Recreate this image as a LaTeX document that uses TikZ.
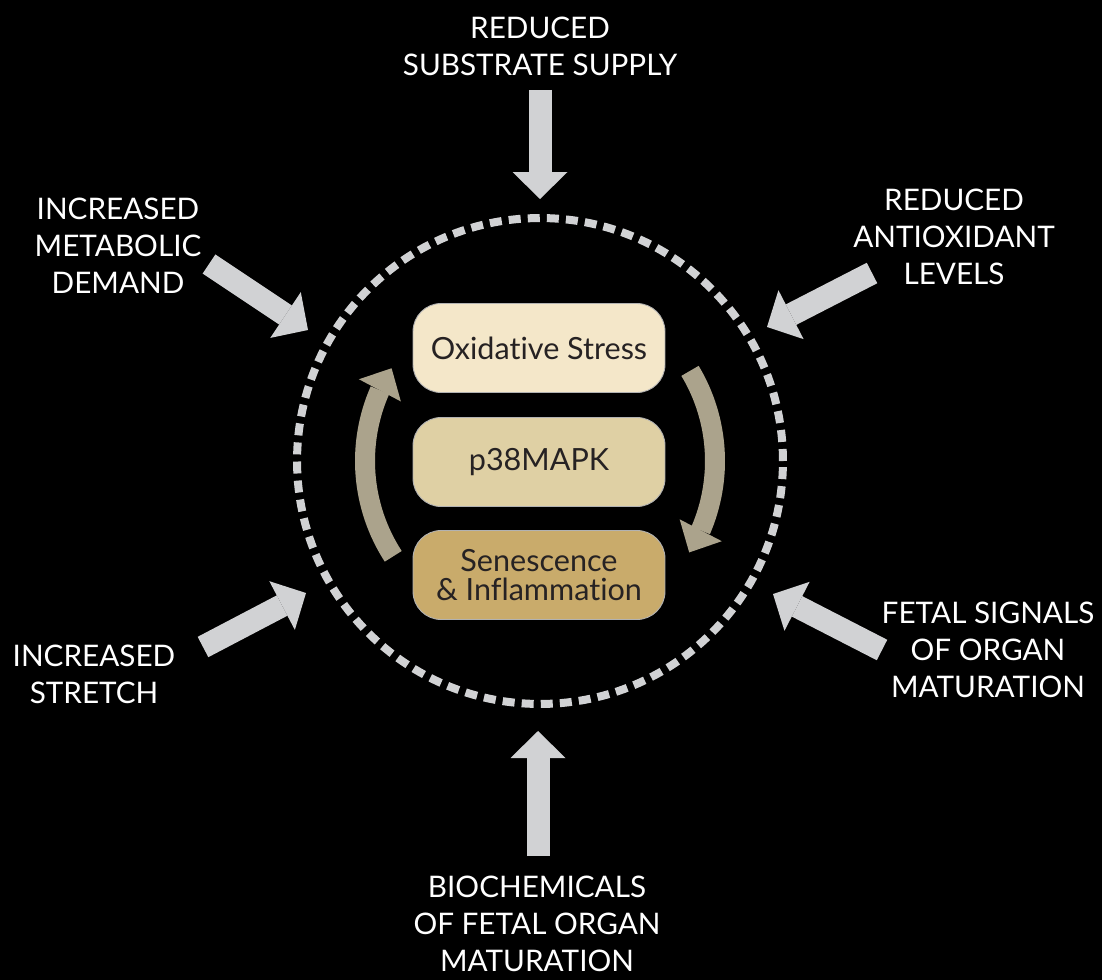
\documentclass[tikz,border=0pt]{standalone}
\usepackage{fontspec}
\setmainfont{Lato}[Ligatures=NoCommon]
\usetikzlibrary{arrows.meta,bending}

\definecolor{pushgray}{HTML}{D1D2D4}
\definecolor{loopgray}{HTML}{ABA38C}
\definecolor{oxfill}{HTML}{F4E7C9}
\definecolor{mapkfill}{HTML}{DFD0A4}
\definecolor{senfill}{HTML}{C9AB6B}
\definecolor{inktext}{HTML}{262223}

\begin{document}
\begin{tikzpicture}[x=0.02cm,y=0.02cm]
\tikzstyle{cue}=[text=white, align=center, inner sep=0pt, font=\fontsize{16.9}{21}\selectfont]
\tikzstyle{stage}=[rounded corners=0.56cm, minimum width=5.04cm, minimum height=1.78cm, text=inktext, align=center, draw=black!30, line width=0.5pt, font=\fontsize{17.4}{16}\selectfont]
\tikzstyle{push}=[pushgray, line width=0.46cm, -{Triangle[length=0.54cm,width=1.1cm,line width=0pt]}]
\tikzstyle{loopflow}=[loopgray, line width=0.4cm, -{Triangle[length=0.5cm,width=0.95cm,line width=0pt]}]
\fill [black] (0,0) rectangle (1102,-980);
% dashed boundary
\node [draw=pushgray, line width=0.16cm, dash pattern=on 0.24cm off 0.142cm, circle, minimum size=9.72cm, inner sep=0pt] (ring) at (540,-461) {};
% central cascade
\node [stage, fill=oxfill] (ox) at (539,-348) {Oxidative Stress};
\node [stage, fill=mapkfill] (mapk) at (539,-462) {p38MAPK};
\node [stage, fill=senfill] (sen) at (539,-575) {Senescence\\\& Inflammation};
\path (ring.center) ++(213:175) coordinate (lfoot);
\path (ring.center) ++(31:175) coordinate (rtop);
\draw [loopflow] (lfoot) arc[start angle=213, end angle=148, radius=175];
\draw [loopflow] (rtop) arc[start angle=31, end angle=-31.5, radius=175];
% outside factors
\node [cue] (subst) at (540,-46) {REDUCED\\SUBSTRATE SUPPLY};
\node [cue] (metab) at (118,-246) {INCREASED\\METABOLIC\\DEMAND};
\node [cue] (antiox) at (954,-237) {REDUCED\\ANTIOXIDANT\\LEVELS};
\node [cue] (stretch) at (94,-674) {INCREASED\\STRETCH};
\node [cue] (fetal) at (988,-650) {FETAL SIGNALS\\OF ORGAN\\MATURATION};
\node [cue] (biochem) at (537,-924) {BIOCHEMICALS\\OF FETAL ORGAN\\MATURATION};
\coordinate (substT) at (540,-90);   \coordinate (substH) at (540,-199);
\coordinate (metabT) at (209,-264);  \coordinate (metabH) at (308,-330);
\coordinate (antioxT) at (872,-273); \coordinate (antioxH) at (767,-327);
\coordinate (stretchT) at (203,-647); \coordinate (stretchH) at (306,-593);
\coordinate (fetalT) at (882,-650);  \coordinate (fetalH) at (773,-594);
\coordinate (biochemT) at (538,-856); \coordinate (biochemH) at (538,-731);
\draw [push] (substT) -- (substH);
\draw [push] (metabT) -- (metabH);
\draw [push] (antioxT) -- (antioxH);
\draw [push] (stretchT) -- (stretchH);
\draw [push] (fetalT) -- (fetalH);
\draw [push] (biochemT) -- (biochemH);
\end{tikzpicture}
\end{document}
